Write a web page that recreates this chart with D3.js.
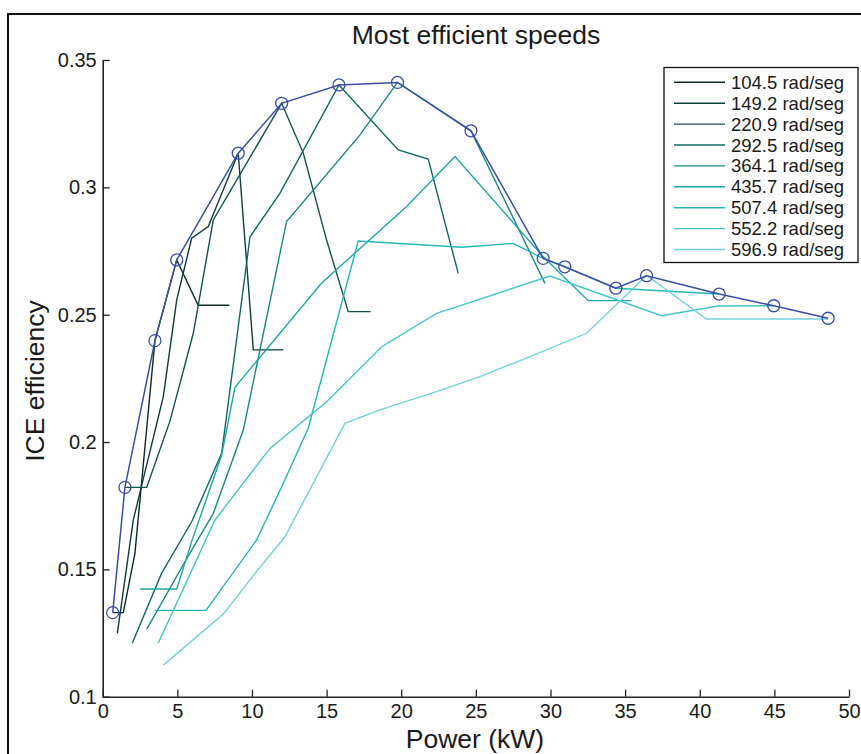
<!DOCTYPE html>
<html><head><meta charset="utf-8">
<script src="https://cdn.jsdelivr.net/npm/d3@7"></script>
<style>
body{margin:0;background:#fff}
svg{display:block}
text{font-family:"Liberation Sans",Arial,Helvetica,sans-serif;fill:#1a1a1a}
</style>
</head><body>
<svg id="chart" width="861" height="754"></svg>
<script>
// ---- data ----
const speedLabels = ["104.5 rad/seg","149.2 rad/seg","220.9 rad/seg","292.5 rad/seg","364.1 rad/seg","435.7 rad/seg","507.4 rad/seg","552.2 rad/seg","596.9 rad/seg"];
const speedColors = ["#0f2a27","#0e3e3a","#14534f","#116863","#178984","#1ea6a7","#24b6bc","#43c4cd","#72d1de"];

const power104 = [0.67,1.38,2.16,3.50,4.96,6.40,8.48];
const eff104   = [0.133,0.133,0.1563,0.2398,0.2715,0.2537,0.2537];
const power149 = [0.98,2.05,4.06,4.96,5.96,7.07,9.08,10.09,12.10];
const eff149   = [0.1249,0.1694,0.2178,0.2558,0.2800,0.2846,0.3134,0.2362,0.2362];
const power221 = [1.49,2.95,4.51,6.07,7.41,11.99,13.44,15.0,16.45,17.95];
const eff221   = [0.1822,0.1822,0.2083,0.2427,0.2872,0.3330,0.3134,0.2793,0.2512,0.2512];
const power292 = [1.98,3.95,5.96,7.97,9.87,11.87,15.83,19.80,21.81,23.82];
const eff292   = [0.121,0.1485,0.1687,0.1956,0.2806,0.2976,0.3402,0.3147,0.3111,0.2662];
const power364 = [2.95,5.51,7.41,9.42,12.32,17.23,19.75,24.67,29.63];
const eff364   = [0.1265,0.153,0.172,0.2047,0.2866,0.3205,0.3412,0.3222,0.2623];
const power436 = [2.50,4.96,5.96,7.97,8.86,14.67,20.36,23.60,29.51,32.52,35.43];
const eff436   = [0.1423,0.1423,0.1609,0.1949,0.2215,0.2624,0.2925,0.3121,0.2728,0.2555,0.2555];
const power507 = [3.50,6.92,10.31,12.10,13.77,17.12,24.05,27.50,29.51,30.96,34.38,41.30];
const eff507   = [0.1339,0.1339,0.1615,0.1838,0.2054,0.2789,0.2765,0.2780,0.2721,0.2688,0.2604,0.2581];
const power552 = [3.72,7.52,11.21,15.0,18.69,22.37,29.96,37.44,41.23,44.96];
const eff552   = [0.121,0.1694,0.1975,0.2158,0.2374,0.2505,0.2652,0.2496,0.2534,0.2535];
const power597 = [4.06,8.12,10.2,12.21,16.23,18.57,22.37,25.27,28.62,32.42,36.44,40.46,48.6];
const eff597   = [0.1124,0.1327,0.1484,0.1628,0.2073,0.2126,0.2198,0.2257,0.2335,0.2427,0.2654,0.2483,0.2483];

const envPower = [0.67,1.49,3.50,4.96,9.08,11.99,15.83,19.75,24.67,29.51,30.96,34.38,36.44,41.30,44.96,48.60];
const envEff   = [0.133,0.1822,0.2398,0.2715,0.3134,0.3330,0.3402,0.3412,0.3222,0.2721,0.2688,0.2604,0.2653,0.2581,0.2535,0.2486];

const xTicks = [0,5,10,15,20,25,30,35,40,45,50];
const yTicks = [0.1,0.15,0.2,0.25,0.3,0.35];
const yTickLabels = ["0.1","0.15","0.2","0.25","0.3","0.35"];

const powers = [power104,power149,power221,power292,power364,power436,power507,power552,power597];
const effs   = [eff104,eff149,eff221,eff292,eff364,eff436,eff507,eff552,eff597];

// ---- drawing ----
const svg = d3.select("#chart");
const x = d3.scaleLinear().domain([0,50]).range([102.7,849]);
const y = d3.scaleLinear().domain([0.1,0.35]).range([696.7,60]);

// outer frame
svg.append("rect").attr("x",8).attr("y",14).attr("width",900).attr("height",800)
  .attr("fill","none").attr("stroke","#111").attr("stroke-width",2);

const line = d3.line().x(d=>x(d[0])).y(d=>y(d[1]));

powers.forEach((p,i)=>{
  const pts = p.map((v,j)=>[v,effs[i][j]]);
  svg.append("path").datum(pts).attr("d",line)
    .attr("fill","none").attr("stroke",speedColors[i]).attr("stroke-width",1.4)
    .attr("stroke-linejoin","miter");
});

const envPts = envPower.map((v,j)=>[v,envEff[j]]);
svg.append("path").datum(envPts).attr("d",line)
  .attr("fill","none").attr("stroke","#3a4ea8").attr("stroke-width",1.5);
svg.selectAll("circle.env").data(envPts).enter().append("circle")
  .attr("cx",d=>x(d[0])).attr("cy",d=>y(d[1])).attr("r",6)
  .attr("fill","none").attr("stroke","#3a4ea8").attr("stroke-width",1.3);

// axes
const xAxis = d3.axisBottom(x).tickValues(xTicks).tickFormat(d3.format("d"))
  .tickSize(-7).tickSizeOuter(0).tickPadding(7);
const gx = svg.append("g").attr("transform","translate(0,696.7)").call(xAxis);
const yAxis = d3.axisLeft(y).tickValues(yTicks).tickFormat((d,i)=>yTickLabels[i])
  .tickSize(-7).tickSizeOuter(0).tickPadding(6);
const gy = svg.append("g").attr("transform","translate(102.7,0)").call(yAxis);
[gx,gy].forEach(g=>{
  g.selectAll("path.domain").attr("stroke","#222").attr("stroke-width",1.6);
  g.selectAll(".tick line").attr("stroke","#222").attr("stroke-width",1.3);
  g.selectAll(".tick text").attr("font-size",20).attr("fill","#1a1a1a")
   .attr("font-family","'Liberation Sans',Arial,sans-serif");
});

// titles
svg.append("text").attr("x",476).attr("y",44).attr("text-anchor","middle")
  .attr("font-size",26.5).text("Most efficient speeds");
svg.append("text").attr("x",475).attr("y",748).attr("text-anchor","middle")
  .attr("font-size",26.5).text("Power (kW)");
svg.append("text").attr("transform","translate(44,381) rotate(-90)").attr("text-anchor","middle")
  .attr("font-size",26.5).text("ICE efficiency");

// legend
const lg = svg.append("g");
lg.append("rect").attr("x",664).attr("y",67.5).attr("width",194).attr("height",195)
  .attr("fill","#fff").attr("stroke","#111").attr("stroke-width",1.3);
speedLabels.forEach((s,i)=>{
  const yy = 82.3 + i*20.9;
  lg.append("line").attr("x1",674).attr("x2",725).attr("y1",yy).attr("y2",yy)
    .attr("stroke",speedColors[i]).attr("stroke-width",1.4);
  lg.append("text").attr("x",731).attr("y",yy+6.5).attr("font-size",18.5).text(s);
});
</script>
</body></html>
